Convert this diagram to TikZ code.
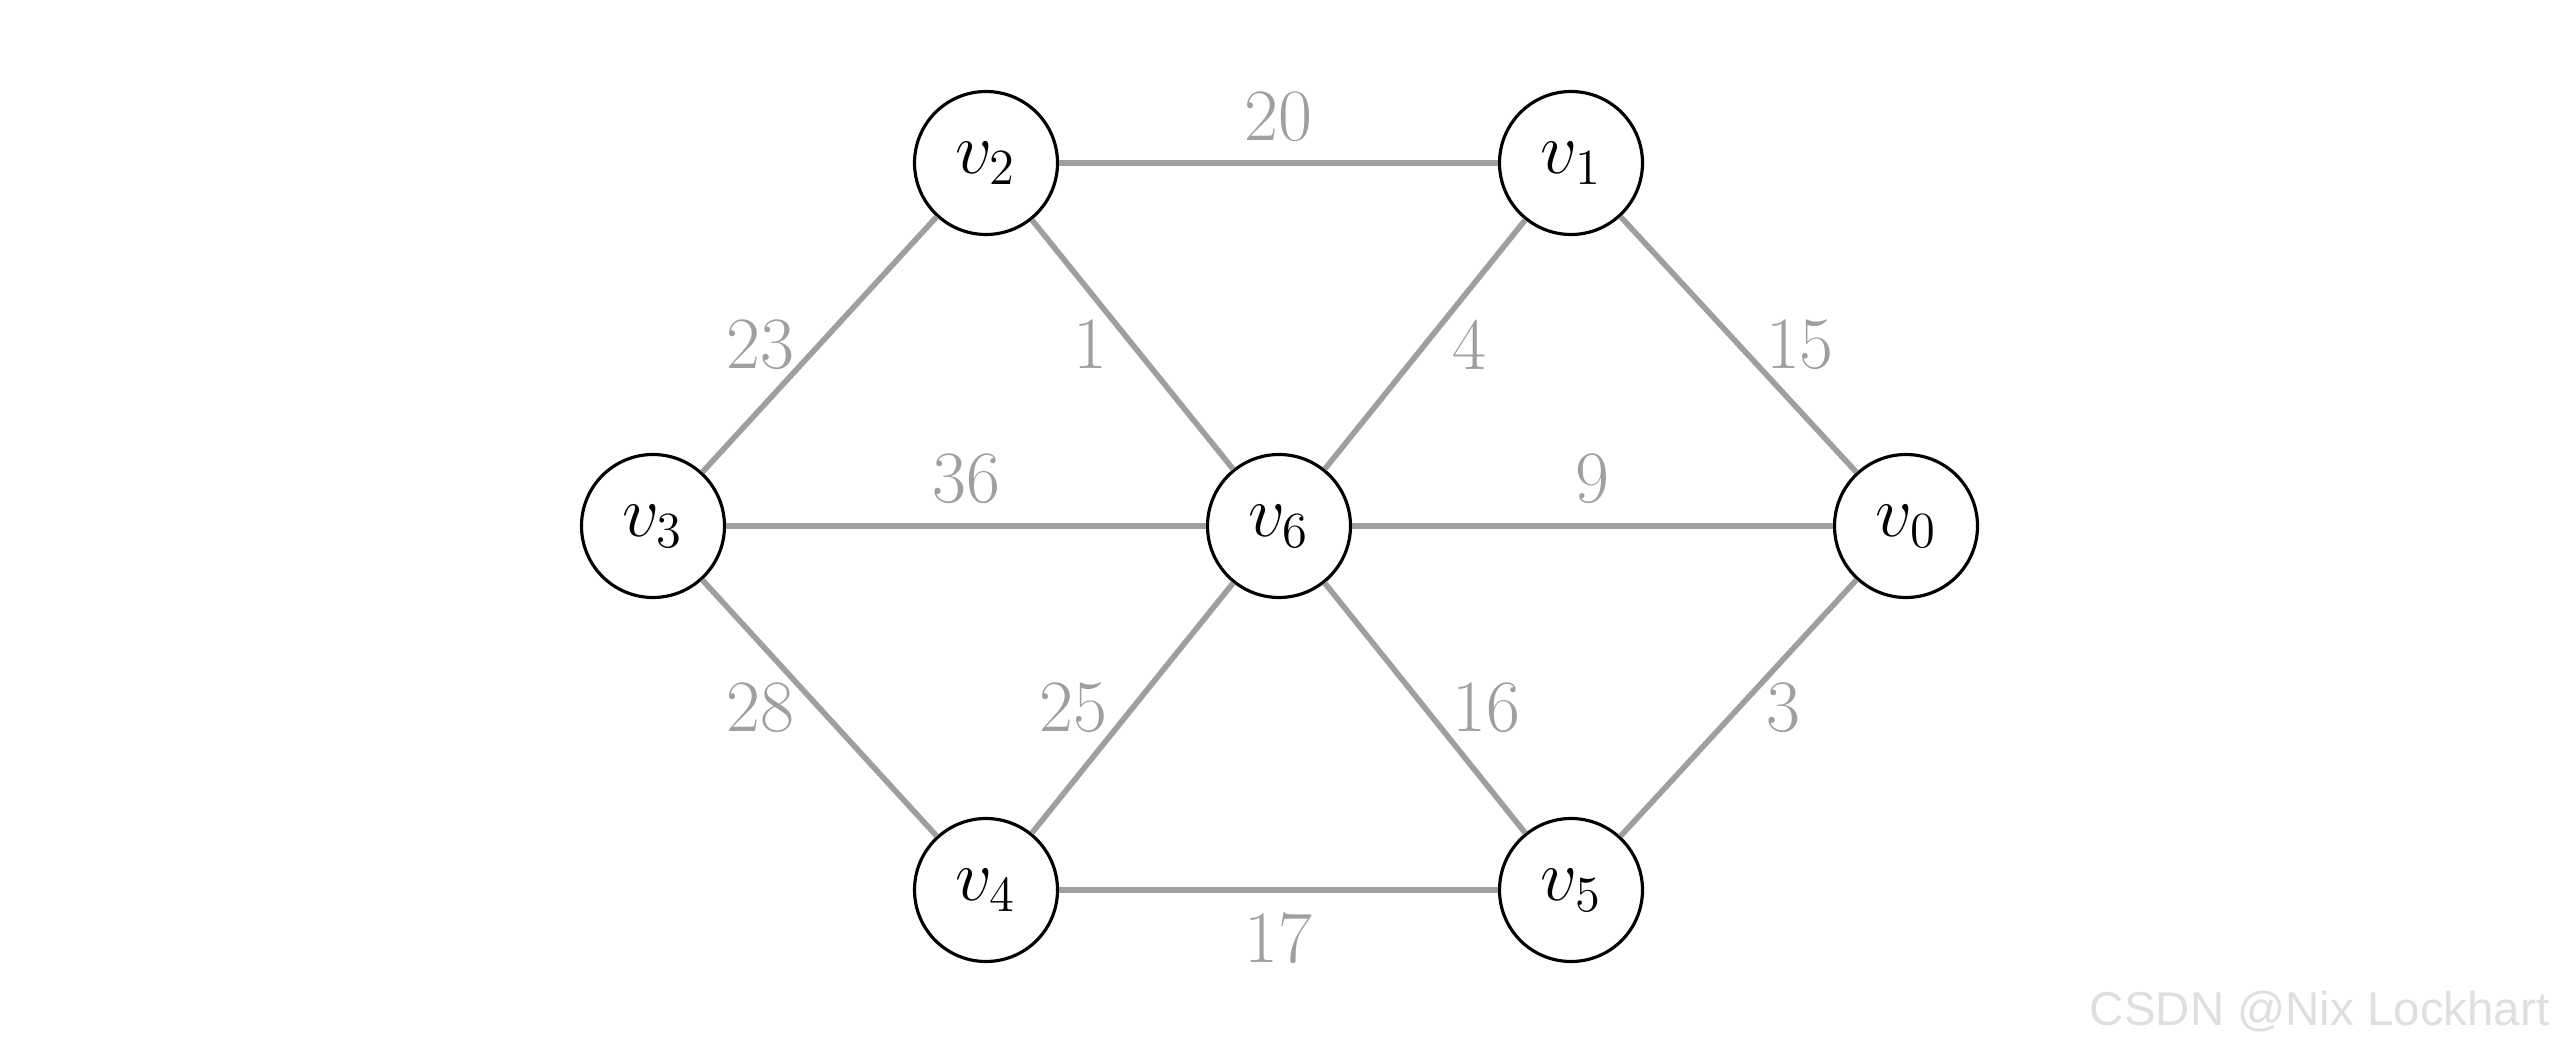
\documentclass[tikz,border=0pt]{standalone}
\usepackage{fontspec}
\newfontfamily\markfont{Liberation Sans}
\begin{document}
\begin{tikzpicture}[
  vertex/.style={circle,draw,line width=0.9pt,minimum size=1.43cm,inner sep=0pt,
    font=\fontsize{21}{25}\selectfont},
  edge/.style={line width=1.6pt,color=gray!75},
  weight/.style={color=gray!75,font=\fontsize{21}{25}\selectfont}]
  \useasboundingbox (0,0) rectangle (25.6,10.53);
  \node[vertex] (v2) at (9.86,8.90)  {$v_2$};
  \node[vertex] (v1) at (15.71,8.90) {$v_1$};
  \node[vertex] (v3) at (6.53,5.27)  {$v_3$};
  \node[vertex] (v6) at (12.79,5.27) {$v_6$};
  \node[vertex] (v0) at (19.06,5.27) {$v_0$};
  \node[vertex] (v4) at (9.86,1.63)  {$v_4$};
  \node[vertex] (v5) at (15.71,1.63) {$v_5$};
%%%
  \draw[edge] (v2) -- node[weight,above=0.07cm] (w21) {20} (v1);
  \draw[edge] (v4) -- node[weight,below=0.08cm] (w45) {17} (v5);
  \draw[edge] (v3) -- node[weight,above=0.08cm] (w36) {36} (v6);
  \draw[edge] (v6) -- node[weight,above=0.08cm] (w60) {9}  (v0);
%%%
  \draw[edge] (v3) -- node[weight,left=0.11cm]  (w32) {23} (v2);
  \draw[edge] (v2) -- node[weight,left=0.11cm]  (w26) {1}  (v6);
  \draw[edge] (v6) -- node[weight,right=0.13cm] (w61) {4}  (v1);
  \draw[edge] (v1) -- node[weight,right=0.13cm] (w10) {15} (v0);
%%%
  \draw[edge] (v3) -- node[weight,left=0.11cm]  (w34) {28} (v4);
  \draw[edge] (v4) -- node[weight,left=0.11cm]  (w46) {25} (v6);
  \draw[edge] (v6) -- node[weight,right=0.13cm] (w65) {16} (v5);
  \draw[edge] (v5) -- node[weight,right=0.13cm] (w50) {3}  (v0);
%%%
  \node[anchor=east,inner sep=0pt,text=gray!25,font=\markfont\fontsize{13.5}{16}\selectfont] (mark)
    at (25.5,0.41) {CSDN @Nix Lockhart};
\end{tikzpicture}
\end{document}
